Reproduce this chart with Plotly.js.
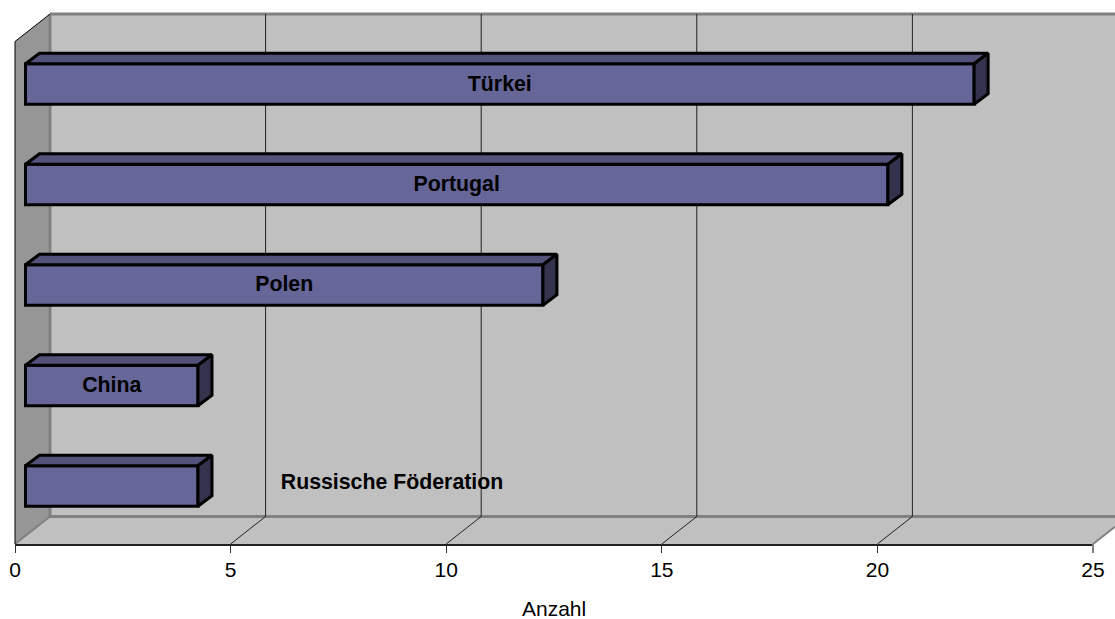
<!DOCTYPE html>
<html><head><meta charset="utf-8">
<script src="https://cdn.plot.ly/plotly-3.0.1.min.js"></script>
<style>html,body{margin:0;padding:0;background:#fff;overflow:hidden}#c{width:1115px;height:619px}</style>
</head><body><div id="c"></div>
<script>
const categories = ['Russische Föderation','China','Polen','Portugal','Türkei'];
const values = [4, 4, 12, 20, 22];
const xTicks = [0,5,10,15,20,25];
const xAxisTitle = 'Anzahl';

const W=1115,H=619,L=15,R=22,T=14,B=75;
const plotW=W-L-R, plotH=H-T-B;
const xMax=25;
const pxPerX=plotW/xMax, pxPerY=100.5;
const yLow=(486-544)/pxPerY;
const yRange=[yLow, yLow+plotH/pxPerY];
// Depth of the 3D box (paper units) and of the bars (data units)
const wallDx=35/plotW, wallDy=27.5/plotH;
const barBase=10.5/pxPerX, barDx=14/pxPerX, barDy=10.5/pxPerY, barH=40.5/pxPerY;

const wallFill='#C0C0C0', sideFill='#969696', edge='#808080';
const poly=(pts,fill,lineColor,lw,layer)=>({type:'path',xref:'paper',yref:'paper',layer:layer||'below',
  path:'M'+pts.map(p=>p.join(',')).join('L')+'Z',fillcolor:fill,line:{color:lineColor||fill,width:lw||0}});
const seg=(x0,y0,x1,y1,c,w,layer)=>({type:'line',xref:'paper',yref:'paper',layer:layer||'below',x0,y0,x1,y1,line:{color:c,width:w}});

const rightEnd=(W-L)/plotW, frontTop=1-wallDy, backRight=rightEnd;
const shapes=[
  // back wall
  poly([[wallDx,wallDy],[backRight,wallDy],[backRight,1],[wallDx,1]],wallFill),
  // floor
  poly([[0,0],[wallDx,wallDy],[backRight,wallDy],[backRight,(rightEnd-1)/wallDx*wallDy],[1,0]],wallFill),
  // side wall
  poly([[0,0],[wallDx,wallDy],[wallDx,1],[0,frontTop]],sideFill),
  seg(wallDx,wallDy,wallDx,1,edge,3),
  seg(wallDx,1,backRight,1,edge,3),
  seg(wallDx,wallDy,backRight,wallDy,edge,3),
  seg(0,0,wallDx,wallDy,edge,2),
  seg(1,0,rightEnd,(rightEnd-1)/wallDx*wallDy,edge,2),
  seg(0,0,0,frontTop,'#000',1),
  seg(0,frontTop,wallDx,1,'#000',1)
];
xTicks.filter(t=>t>0&&t<xMax).forEach(t=>{
  const p=t/xMax;
  shapes.push(seg(p+wallDx,wallDy,p+wallDx,1,'#222',1));
  shapes.push(seg(p,0,p+wallDx,wallDy,'#222',1));
});
shapes.push(seg(1,0,1,-9/plotH,edge,2,'above'));

const frontTrace={type:'bar',orientation:'h',y:categories.map((_,i)=>i),x:values,base:values.map(()=>barBase),
  width:barH,marker:{color:'#666699',line:{color:'#000',width:3}},hoverinfo:'skip',showlegend:false};

const faceX=[],faceY=[],sideX=[],sideY=[];
values.forEach((v,i)=>{
  const x0=barBase,x1=barBase+v,yt=i+barH/2,yb=i-barH/2;
  faceX.push(x0,x0+barDx,x1+barDx,x1,x0,null);
  faceY.push(yt,yt+barDy,yt+barDy,yt,yt,null);
  sideX.push(x1,x1+barDx,x1+barDx,x1,x1,null);
  sideY.push(yt,yt+barDy,yb+barDy,yb,yt,null);
});
const faceStyle=(x,y,c)=>({type:'scatter',mode:'lines',x,y,fill:'toself',fillcolor:c,
  line:{color:'#000',width:3},hoverinfo:'skip',showlegend:false});

// The first label sits beside its bar in the reference
const labelShiftX=[6.5,0,0,0,0], labelShiftY=[0.02,-0.015,-0.01,-0.01,-0.015];
const labels={type:'scatter',mode:'text',
  x:values.map((v,i)=>barBase+v/2+labelShiftX[i]),
  y:categories.map((_,i)=>i+labelShiftY[i]),
  text:categories,textposition:'middle center',
  textfont:{family:'"Liberation Sans",Arial,sans-serif',size:21.3,color:'#000',weight:700},
  hoverinfo:'skip',showlegend:false};

Plotly.newPlot('c',[frontTrace,faceStyle(faceX,faceY,'#52527A'),faceStyle(sideX,sideY,'#33334D'),labels],{
  width:W,height:H,margin:{l:L,r:R,t:T,b:B,pad:0},
  paper_bgcolor:'#fff',plot_bgcolor:'rgba(0,0,0,0)',
  font:{family:'"Liberation Sans",Arial,sans-serif',size:20,color:'#000'},
  showlegend:false,shapes,
  annotations:[{xref:'paper',yref:'paper',x:0.5,y:-64/plotH,xanchor:'center',yanchor:'middle',showarrow:false,
    text:xAxisTitle,font:{size:21,color:'#000'}}],
  xaxis:{range:[0,xMax],tickmode:'array',tickvals:xTicks,ticktext:xTicks.map(String),ticks:'outside',ticklen:7,tickcolor:'#333',tickwidth:1,
    showgrid:false,zeroline:false,showline:true,linecolor:'#222',linewidth:2,tickfont:{size:21},ticklabelstandoff:-1},
  yaxis:{range:yRange,showticklabels:false,ticks:'',showgrid:false,zeroline:false,showline:false}
},{displayModeBar:false,staticPlot:true});
</script></body></html>
